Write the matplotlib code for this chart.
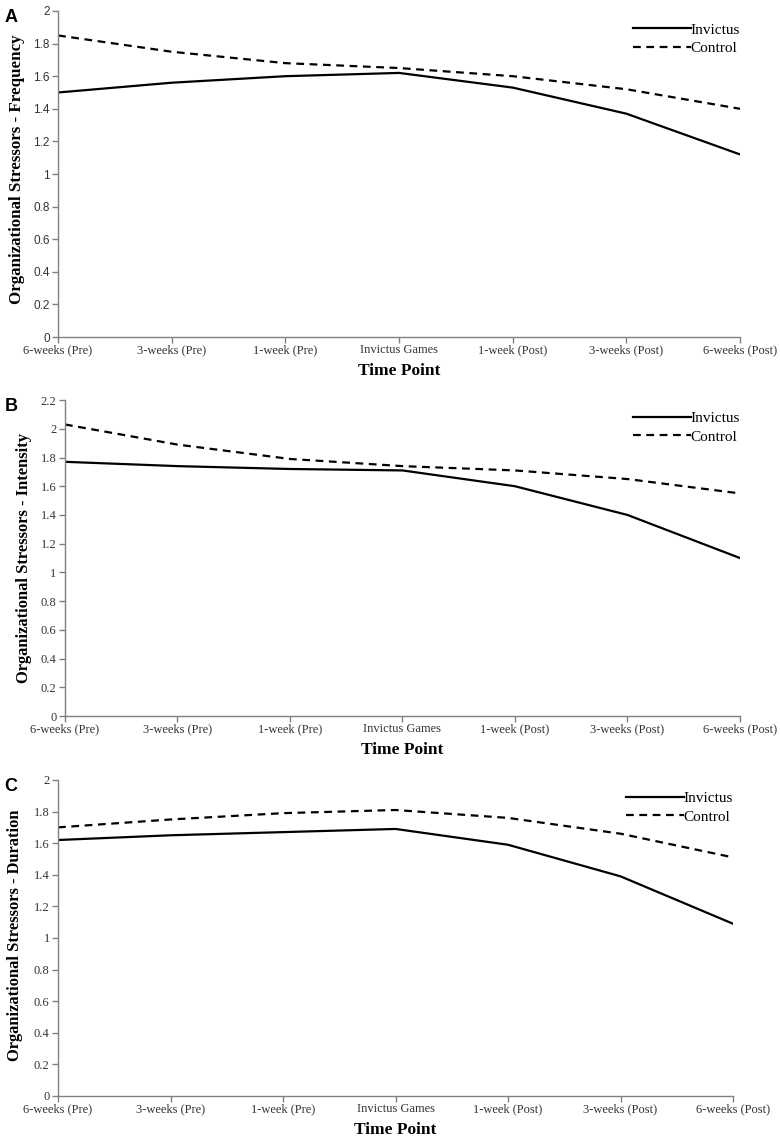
import matplotlib.pyplot as plt

# time points on the x axis
time_points = ['6-weeks (Pre)', '3-weeks (Pre)', '1-week (Pre)', 'Invictus Games',
               '1-week (Post)', '3-weeks (Post)', '6-weeks (Post)']

# panel A - frequency
freq_invictus = [1.50, 1.56, 1.60, 1.62, 1.53, 1.37, 1.12]
freq_control = [1.85, 1.75, 1.68, 1.65, 1.60, 1.52, 1.40]

# panel B - intensity
int_invictus = [1.77, 1.74, 1.72, 1.71, 1.60, 1.40, 1.10]
int_control = [2.03, 1.89, 1.79, 1.74, 1.71, 1.65, 1.55]

# panel C - duration
dur_invictus = [1.62, 1.65, 1.67, 1.69, 1.59, 1.39, 1.09]
dur_control = [1.70, 1.75, 1.79, 1.81, 1.76, 1.66, 1.51]

# letter, y label, invictus, control, ymax, axes box, ylabel size, ylabel x px, ylabel y frac
panels = [
    ('A', 'Organizational Stressors - Frequency', freq_invictus, freq_control, 2.0,
     [0.0744, 0.7054, 0.8744, 0.2850], 12.2, 25, 0.515),
    ('B', 'Organizational Stressors - Intensity', int_invictus, int_control, 2.2,
     [0.0833, 0.3741, 0.8654, 0.2762], 11.9, 32, 0.5),
    ('C', 'Organizational Stressors - Duration', dur_invictus, dur_control, 2.0,
     [0.0744, 0.0420, 0.8654, 0.2762], 11.9, 23, 0.51),
]

serif = ['Liberation Serif', 'DejaVu Serif']
sans = ['Liberation Sans', 'DejaVu Sans']
gray = '#808080'

fig = plt.figure(figsize=(7.8, 11.44), dpi=100)

for letter, ylab, inv, ctl, ymax, pos, ysize, ylx, yly in panels:
    ax = fig.add_axes(pos)
    x = range(len(time_points))
    ax.plot(x, inv, color='black', lw=1.6, label='Invictus')
    ax.plot(x, ctl, color='black', lw=1.6, ls=(0, (3.5, 2.5)), label='Control')

    for s in ['top', 'right']:
        ax.spines[s].set_visible(False)
    for s in ['left', 'bottom']:
        ax.spines[s].set_color(gray)
        ax.spines[s].set_linewidth(1.0)
    ax.tick_params(axis='both', direction='out', length=4, color=gray, width=1.0, pad=2)
    ax.tick_params(axis='x', pad=7.5)

    ax.set_xlim(0, len(time_points) - 1)
    ax.set_ylim(0, ymax)
    ax.set_xticks(list(x))
    ax.set_xticklabels(time_points, family=serif, fontsize=9, color='#333333')
    for lbl in ax.get_xticklabels():
        lbl.set_verticalalignment('baseline')
    yt = [round(0.2 * i, 1) for i in range(int(round(ymax / 0.2)) + 1)]
    ax.set_yticks(yt)
    # panel A uses a sans face on the value axis
    ax.set_yticklabels(['%g' % v for v in yt], family=sans if letter == 'A' else serif,
                       fontsize=9 if letter != 'A' else 8.5, color='#333333')

    ax.set_xlabel('Time Point', family=serif, fontsize=12.5, fontweight='bold', labelpad=5)
    ax.set_ylabel(ylab, family=serif, fontsize=ysize, fontweight='bold')
    left_px = pos[0] * 780
    ax_w = pos[2] * 780
    ax.yaxis.set_label_coords((ylx - left_px) / ax_w, yly)

    ax.legend(loc='upper right', bbox_to_anchor=(1.0, 0.963), frameon=False,
              borderaxespad=0, borderpad=0,
              handlelength=3.8, handletextpad=0.0, labelspacing=0.3,
              prop={'family': serif, 'size': 11})

    fig.text(0.006, pos[1] + pos[3] + 0.002, letter, fontsize=13, fontweight='bold',
             family=sans, va='top', ha='left')

fig.savefig('out.png', dpi=100)
